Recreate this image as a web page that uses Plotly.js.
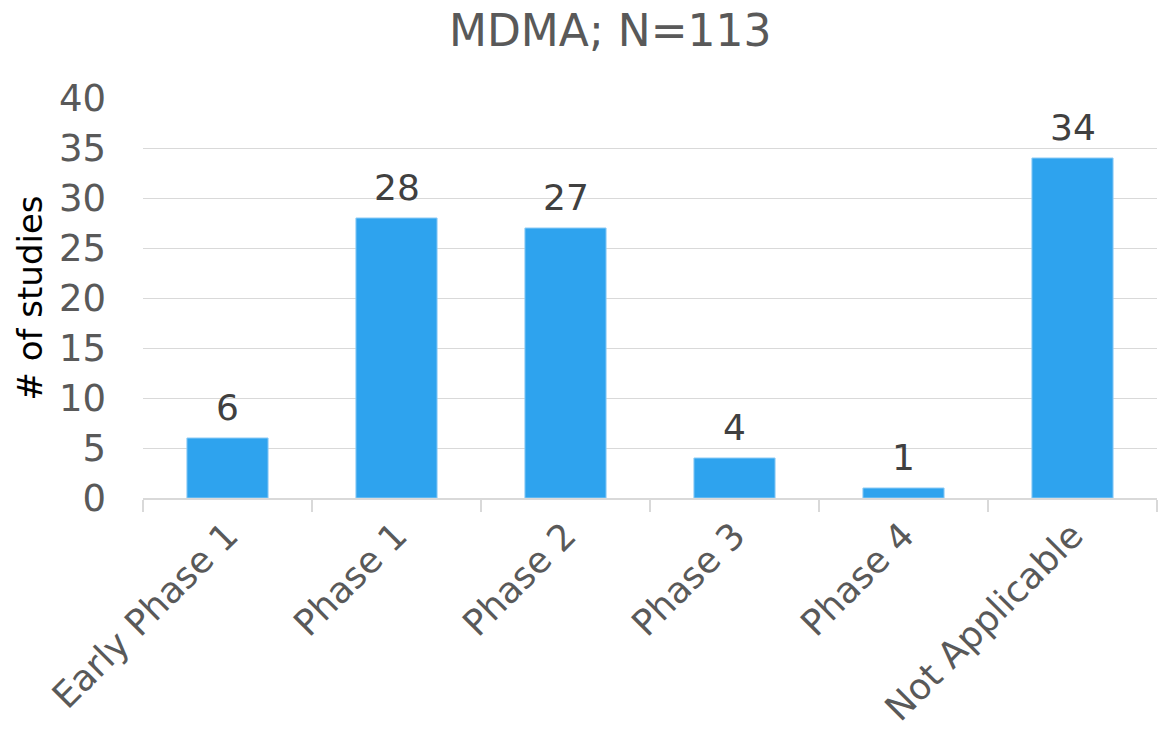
<!DOCTYPE html>
<html>
<head>
<meta charset="utf-8">
<script src="https://cdn.plot.ly/plotly-3.0.1.min.js"></script>
<style>html,body{margin:0;padding:0;background:#fff;}#chart{width:1158px;height:740px;}</style>
</head>
<body>
<div id="chart"></div>
<script>
const categories = ["Early Phase 1", "Phase 1", "Phase 2", "Phase 3", "Phase 4", "Not Applicable"];
const studies = [6, 28, 27, 4, 1, 34];
const yTicks = [0, 5, 10, 15, 20, 25, 30, 35, 40];
const chartTitle = "MDMA; N=113";
const yTitle = "# of studies";

const FONT = "'Century Gothic', 'DejaVu Sans', sans-serif";

const labelAnnotations = categories.map((c, i) => ({
  x: c, y: studies[i], xref: "x", yref: "y",
  text: String(studies[i]), showarrow: false,
  yanchor: "bottom", yshift: 8,
  font: {family: FONT, size: 36, color: "#404040"}
}));

Plotly.newPlot("chart", [{
  type: "bar",
  x: categories,
  y: studies,
  width: 0.48,
  marker: {color: "#2EA3EE", line: {color: "#8CCBF5", width: 1}},
  hoverinfo: "none"
}], {
  width: 1158, height: 740,
  margin: {l: 143, r: 1, t: 98, b: 242},
  paper_bgcolor: "#fff", plot_bgcolor: "#fff",
  showlegend: false,
  title: {text: chartTitle, font: {family: FONT, size: 44, color: "#595959"}, x: 0.527, xanchor: "center", y: 0.958, yanchor: "middle"},
  annotations: labelAnnotations,
  xaxis: {
    type: "category",
    tickangle: -45,
    tickfont: {family: FONT, size: 36, color: "#595959"},
    showgrid: false,
    showline: true, linecolor: "#d9d9d9", linewidth: 2,
    ticks: "outside", tickson: "boundaries", ticklen: 12, tickcolor: "#d9d9d9", tickwidth: 2,
    zeroline: false
  },
  yaxis: {
    range: [0, 40],
    tickvals: yTicks,
    tickfont: {family: FONT, size: 37, color: "#595959"},
    showgrid: true, gridcolor: "#d9d9d9", gridwidth: 1,
    zeroline: false, showline: false,
    ticks: "", ticklabelstandoff: 36,
    title: {text: yTitle, font: {family: FONT, size: 34, color: "#000"}, standoff: 6}
  },
  bargap: 0.52
}, {staticPlot: true, displayModeBar: false});
</script>
</body>
</html>
